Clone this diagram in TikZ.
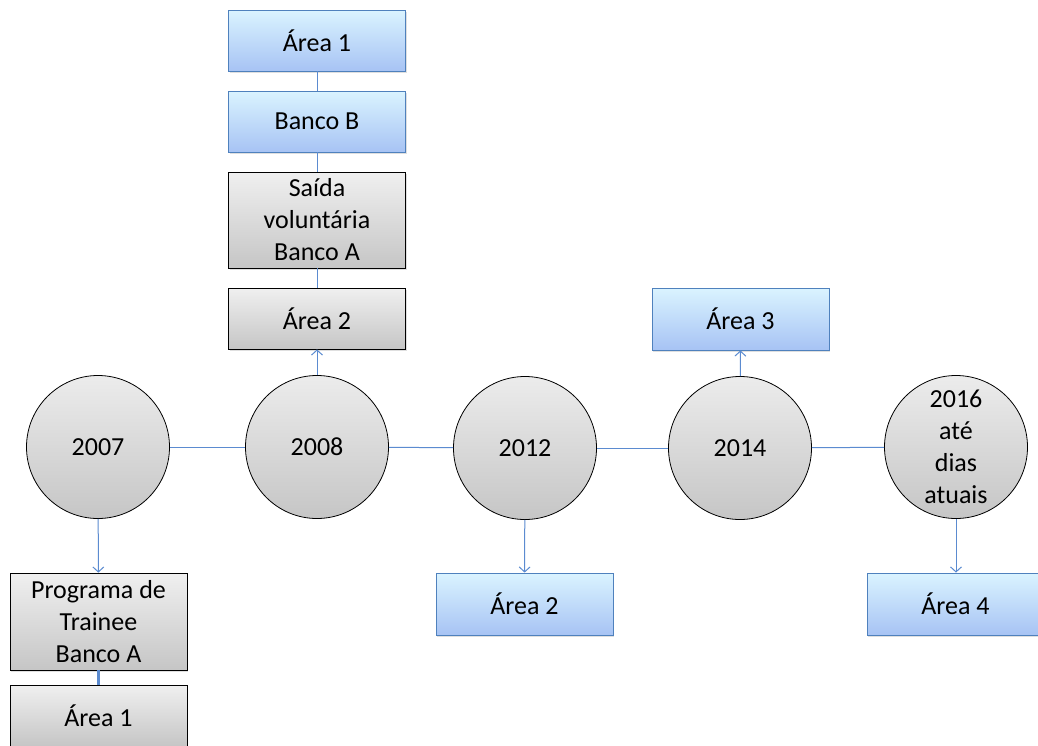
\documentclass[tikz,border=0pt]{standalone}
\usepackage{fontspec}
\setmainfont{Carlito}
\usetikzlibrary{arrows.meta,shadows}

\definecolor{linkblue}{HTML}{5B8BD0}
\definecolor{boxedge}{HTML}{4F81BD}

\tikzset{
  base/.style={font=\fontsize{26}{32}\selectfont, align=center, inner sep=0pt},
  bluebox/.style={base, rectangle, draw=boxedge, line width=0.9pt,
    top color=blue!5!white!90!cyan, bottom color={rgb,255:red,167;green,195;blue,244},
    minimum width=177pt, minimum height=62pt,
    drop shadow={opacity=0.25, shadow xshift=1pt, shadow yshift=-2pt}},
  graybox/.style={base, rectangle, draw=black, line width=0.8pt,
    top color=gray!12, bottom color=gray!45,
    minimum width=177pt, minimum height=61pt,
    drop shadow={opacity=0.25, shadow xshift=1pt, shadow yshift=-2pt}},
  yearnode/.style={base, circle, draw=black, line width=0.8pt,
    top color=gray!15, bottom color=gray!45, minimum size=143pt},
  link/.style={draw=linkblue, line width=1pt},
  linkarrow/.style={link, -{Straight Barb[length=5pt,width=11pt]}},
}

\begin{document}
\begin{tikzpicture}[x=1pt,y=-1pt]
\useasboundingbox (0,0) rectangle (1038,745);

% timeline of years
\node[yearnode] (y2007) at (98,447) {2007};
\node[yearnode] (y2008) at (317,447) {2008};
\node[yearnode] (y2012) at (525,448) {2012};
\node[yearnode] (y2014) at (740,448) {2014};
\node[yearnode] (y2016) at (956,447) {2016\\até\\dias\\atuais};

\draw[link] (y2007) -- (y2008);
\draw[link] (y2008) -- (y2012);
\draw[link] (y2012) -- (y2014);
\draw[link] (y2014) -- (y2016);

% 2007 branch
\node[graybox, minimum height=97pt] (trainee) at (98.5,621.5) {Programa de\\Trainee\\Banco A};
\node[graybox] (area1a) at (98.5,715.5) {Área 1};
\draw[linkarrow] (y2007) -- (trainee);
\draw[link, line width=3pt] (trainee) -- (area1a);

% 2008 branch
\node[graybox, minimum height=61pt] (area2a) at (317,318.5) {Área 2};
\node[graybox, minimum height=96pt] (saida) at (317,220) {Saída\\voluntária\\Banco A};
\node[bluebox, minimum height=61pt] (bancob) at (317,121.5) {Banco B};
\node[bluebox, minimum height=61pt] (area1b) at (317,40.5) {Área 1};
\draw[linkarrow] (y2008) -- (area2a);
\draw[link] (area2a) -- (saida);
\draw[link] (saida) -- (bancob);
\draw[link] (bancob) -- (area1b);

% 2012 branch
\node[bluebox] (area2b) at (524.5,604) {Área 2};
\draw[linkarrow] (y2012) -- (area2b);

% 2014 branch
\node[bluebox] (area3) at (740.5,319) {Área 3};
\draw[linkarrow] (y2014) -- (area3);

% 2016 branch (runs past the right edge)
\node[bluebox, minimum width=180pt] (area4) at (957,604) {\hspace*{-3pt}Área 4};
\draw[linkarrow] (y2016) -- (area4.north -| y2016);
\end{tikzpicture}
\end{document}
